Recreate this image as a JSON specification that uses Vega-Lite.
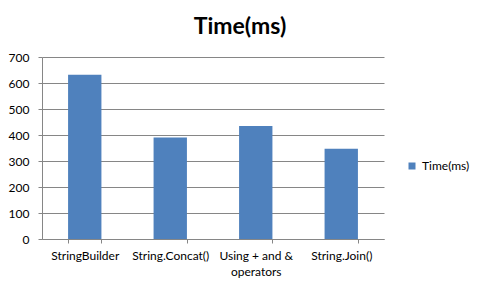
{
  "$schema": "https://vega.github.io/schema/vega-lite/v6.json",
  "width": 342,
  "height": 182,
  "autosize": "none",
  "padding": {"left": 42, "top": 57, "right": 99, "bottom": 55},
  "background": "white",
  "title": {"text": "Time(ms)", "font": "Lato", "fontSize": 23, "fontWeight": "bold", "color": "#000000", "anchor": "middle", "dx": 27, "baseline": "alphabetic", "offset": -6},
  "data": {"values": [
    {"method": "StringBuilder", "time": 632, "series": "Time(ms)"},
    {"method": "String.Concat()", "time": 390, "series": "Time(ms)"},
    {"method": "Using + and & operators", "time": 435, "series": "Time(ms)"},
    {"method": "String.Join()", "time": 347, "series": "Time(ms)"}
  ]},
  "mark": {"type": "bar"},
  "encoding": {
    "x": {"field": "method", "type": "nominal", "sort": null,
      "scale": {"paddingInner": 0.61, "paddingOuter": 0.305},
      "axis": {"title": null, "labelAngle": 0, "labelFont": "Lato", "labelFontSize": 12, "labelColor": "#000000",
        "labelExpr": "datum.label == 'Using + and & operators' ? ['Using + and &', 'operators'] : datum.label",
        "labelLineHeight": 16, "labelPadding": 7, "labelBaseline": "top",
        "tickBand": "extent", "tickSize": 4, "tickColor": "#868686", "domainColor": "#868686", "labelLimit": 200}},
    "y": {"field": "time", "type": "quantitative",
      "scale": {"domain": [0, 700], "nice": false},
      "axis": {"title": null, "values": [0, 100, 200, 300, 400, 500, 600, 700], "labelFont": "Lato", "labelFontSize": 12, "labelColor": "#000000",
        "tickSize": 4, "tickColor": "#868686", "gridColor": "#868686", "domainColor": "#868686", "labelPadding": 9}},
    "color": {"field": "series", "type": "nominal", "scale": {"range": ["#4F81BD"]},
      "legend": {"title": null, "orient": "none", "legendX": 364, "legendY": 103, "symbolType": "square", "symbolSize": 49, "symbolStrokeWidth": 0, "labelFont": "Lato", "labelFontSize": 12, "labelColor": "#000000", "labelOffset": 4, "padding": 0}}
  },
  "config": {"view": {"stroke": null}}
}
